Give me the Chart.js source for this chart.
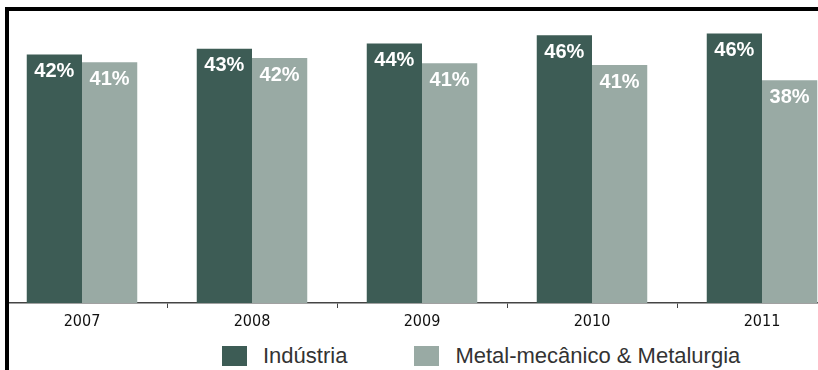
<!DOCTYPE html>
<html>
<head>
<meta charset="utf-8">
<script src="https://cdn.jsdelivr.net/npm/chart.js@4.4.1/dist/chart.umd.min.js"></script>
<style>
  html, body { margin: 0; padding: 0; background: #fff; overflow: hidden; }
  body { width: 818px; height: 370px; position: relative; }
  #wrap { position: absolute; left: 5px; top: 0; width: 842px; height: 335px; overflow: hidden; }
  #wrap canvas { position: absolute; left: -8px; top: 0; }
  #frame {
    position: absolute; left: 5px; top: 7px; width: 820px; height: 370px;
    border-top: 4px solid #000; border-left: 4px solid #000; pointer-events: none;
  }
  #legend {
    position: absolute; left: 222px; top: 343px; height: 26px;
    display: flex; align-items: center;
    font-family: 'Liberation Sans', Arial, sans-serif; font-size: 22px; color: #333;
  }
  #legend .item { display: flex; align-items: center; margin-right: 67px; line-height: 26px; }
  #legend .box { width: 25px; height: 20px; margin-right: 16px; }
</style>
</head>
<body>
<div id="wrap"><canvas id="chart" width="850" height="335"></canvas></div>
<div id="legend"></div>
<div id="frame"></div>
<script>
const years = ['2007', '2008', '2009', '2010', '2011'];
const seriesNames = ['Indústria', 'Metal-mecânico & Metalurgia'];
// bar heights (labels show rounded values)
const industria = [42.4, 43.4, 44.3, 45.7, 46.0];
const metal = [41.1, 41.8, 40.9, 40.6, 38.0];
const colors = ['#3d5c55', '#99aaa4'];

const narrow = "'Liberation Sans Narrow', 'DejaVu Sans Condensed', 'Liberation Sans', sans-serif";

const barLabels = {
  id: 'barLabels',
  afterDatasetsDraw(chart) {
    const ctx = chart.ctx;
    ctx.save();
    ctx.fillStyle = '#fff';
    ctx.font = "bold 20px 'Liberation Sans', Arial, sans-serif";
    ctx.textAlign = 'center';
    ctx.textBaseline = 'middle';
    chart.data.datasets.forEach((ds, i) => {
      chart.getDatasetMeta(i).data.forEach((bar, j) => {
        ctx.fillText(Math.round(ds.data[j]) + '%', bar.x, bar.y + 17);
      });
    });
    ctx.restore();
  }
};

const chart = new Chart(document.getElementById('chart'), {
  type: 'bar',
  data: {
    labels: years,
    datasets: [
      { label: seriesNames[0], data: industria, backgroundColor: colors[0] },
      { label: seriesNames[1], data: metal, backgroundColor: colors[1] }
    ]
  },
  options: {
    responsive: false,
    animation: false,
    layout: { padding: { top: 10, left: 0, right: 0, bottom: 0 } },
    categoryPercentage: 0.65,
    barPercentage: 1,
    plugins: {
      legend: { display: false },
      tooltip: { enabled: false }
    },
    scales: {
      x: {
        grid: { display: true, drawOnChartArea: false, drawTicks: true, tickLength: 5, color: '#444', offset: true },
        border: { display: true, color: '#444', width: 1.5 },
        ticks: { color: '#111', padding: 4, font: { family: narrow, size: 16 } },
        afterFit: (scale) => { scale.height = 32; }
      },
      y: {
        display: false,
        min: 0,
        max: 50
      }
    }
  },
  plugins: [barLabels]
});

// legend built from the chart's datasets
const legendEl = document.getElementById('legend');
chart.data.datasets.forEach((ds) => {
  const item = document.createElement('div');
  item.className = 'item';
  const box = document.createElement('span');
  box.className = 'box';
  box.style.background = ds.backgroundColor;
  const txt = document.createElement('span');
  txt.textContent = ds.label;
  item.appendChild(box);
  item.appendChild(txt);
  legendEl.appendChild(item);
});
</script>
</body>
</html>
